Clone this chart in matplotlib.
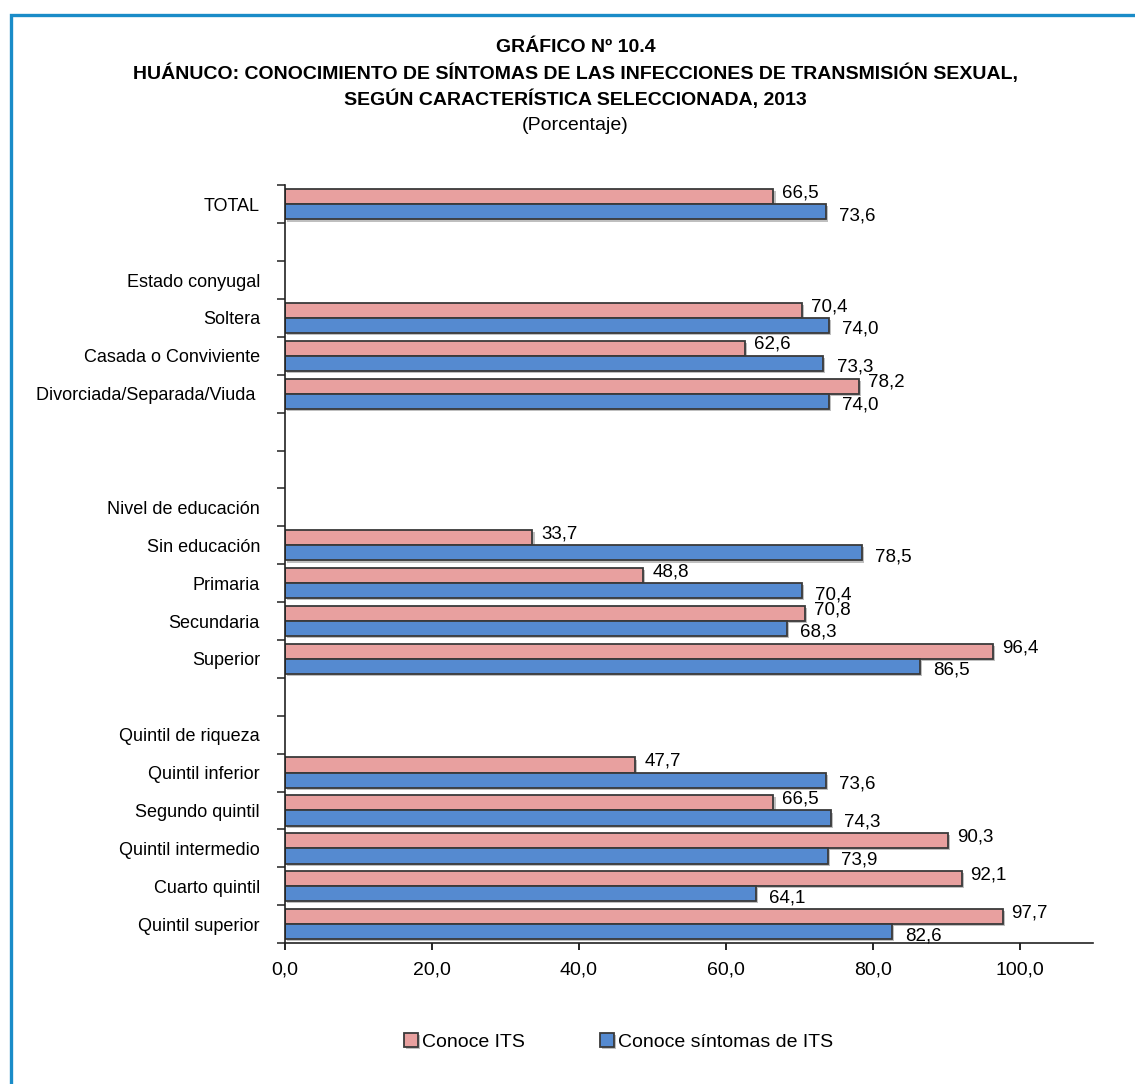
import numpy as np
import matplotlib.pyplot as plt
import matplotlib.patheffects as pe
from matplotlib.patches import Rectangle
from matplotlib.ticker import FixedLocator, NullLocator

plt.rcParams['font.family'] = ['Liberation Sans', 'DejaVu Sans']

# -------------------------------------------------------------
# data (blank rows / group headers have nan)
# -------------------------------------------------------------
categories = [
    "TOTAL", "", "Estado conyugal", "Soltera", "Casada o Conviviente",
    "Divorciada/Separada/Viuda ", "", "", "Nivel de educación", "Sin educación",
    "Primaria", "Secundaria", "Superior", "", "Quintil de riqueza",
    "Quintil inferior", "Segundo quintil", "Quintil intermedio", "Cuarto quintil",
    "Quintil superior",
]
conoce_its = [66.5, np.nan, np.nan, 70.4, 62.6, 78.2, np.nan, np.nan, np.nan, 33.7,
              48.8, 70.8, 96.4, np.nan, np.nan, 47.7, 66.5, 90.3, 92.1, 97.7]
conoce_sintomas = [73.6, np.nan, np.nan, 74.0, 73.3, 74.0, np.nan, np.nan, np.nan, 78.5,
                   70.4, 68.3, 86.5, np.nan, np.nan, 73.6, 74.3, 73.9, 64.1, 82.6]
series_names = ["Conoce ITS", "Conoce síntomas de ITS"]
xticks = [0, 20, 40, 60, 80, 100]

pink = "#E8A09F"
blue = "#558AD0"
edge = "#3A3A3A"

fig = plt.figure(figsize=(11.35, 10.84), dpi=100)
ax = fig.add_axes([0.251, 0.130, 0.712, 0.699])

n = len(categories)
y = np.arange(n)
h = 0.4
shadow = [pe.withSimplePatchShadow(offset=(1.5, -1.5), shadow_rgbFace="gray", alpha=0.5)]

b1 = ax.barh(y - h / 2, conoce_its, height=h, color=pink, edgecolor=edge,
             linewidth=1.3, label=series_names[0], path_effects=shadow)
b2 = ax.barh(y + h / 2, conoce_sintomas, height=h, color=blue, edgecolor=edge,
             linewidth=1.3, label=series_names[1], path_effects=shadow)

# value labels, comma decimal
for yi, v in zip(y, conoce_its):
    if not np.isnan(v):
        ax.text(v + 1.2, yi - h / 2 - 0.1, f"{v:.1f}".replace(".", ","),
                va="center", ha="left", fontsize=13.5)
for yi, v in zip(y, conoce_sintomas):
    if not np.isnan(v):
        ax.text(v + 1.8, yi + h / 2 + 0.1, f"{v:.1f}".replace(".", ","),
                va="center", ha="left", fontsize=13.5)

ax.set_ylim(n - 0.5, -0.5)
ax.set_xlim(0, 110)
ax.set_yticks(y)
ax.set_yticklabels(categories, fontsize=13)
ax.yaxis.set_minor_locator(FixedLocator(np.arange(-0.5, n, 1.0)))
ax.tick_params(axis="y", which="major", length=0, pad=18)
ax.tick_params(axis="y", which="minor", length=6, width=1.2, color="#333333")
ax.set_xticks(xticks)
ax.set_xticklabels([f"{t:.1f}".replace(".", ",") for t in xticks], fontsize=14)
ax.tick_params(axis="x", length=5, width=1.2, pad=8)
ax.xaxis.set_minor_locator(NullLocator())

for s in ["top", "right"]:
    ax.spines[s].set_visible(False)
for s in ["left", "bottom"]:
    ax.spines[s].set_linewidth(1.2)
    ax.spines[s].set_color("#222222")

# titles
fig.text(0.507, 0.956, "GRÁFICO Nº 10.4", ha="center", va="center",
         fontsize=14, fontweight="bold")
fig.text(0.507, 0.932, "HUÁNUCO: CONOCIMIENTO DE SÍNTOMAS DE LAS INFECCIONES DE TRANSMISIÓN SEXUAL,",
         ha="center", va="center", fontsize=14, fontweight="bold")
fig.text(0.507, 0.908, "SEGÚN CARACTERÍSTICA SELECCIONADA, 2013", ha="center", va="center",
         fontsize=14, fontweight="bold")
fig.text(0.507, 0.884, "(Porcentaje)", ha="center", va="center", fontsize=14)

leg = fig.legend(handles=[b1, b2], labels=series_names, loc="center",
                 bbox_to_anchor=(0.545, 0.039), ncol=2, frameon=False,
                 fontsize=14, handlelength=0.7, handleheight=0.7,
                 handletextpad=0.2, columnspacing=3.9)

# blue frame around the chart
fig.patches.append(Rectangle((0.0093, -0.05), 1.05, 1.036, transform=fig.transFigure,
                             fill=False, edgecolor="#1A8CC8", linewidth=2.4))

fig.savefig("out.png", dpi=100)
